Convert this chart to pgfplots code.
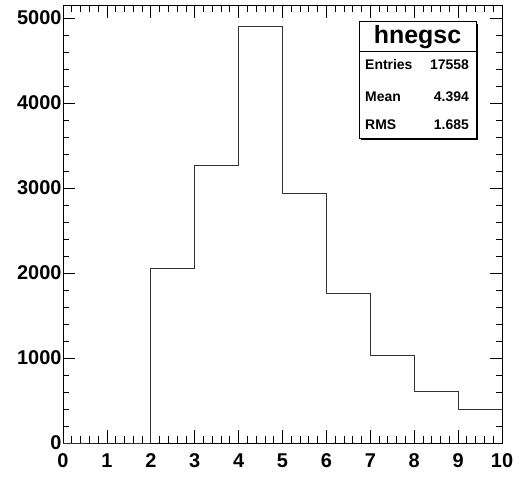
\documentclass[border=0pt]{standalone}
\usepackage{fontspec}
\setmainfont{Liberation Sans}
\usepackage{pgfplots}
\pgfplotsset{compat=1.18}
\begin{document}
\begin{tikzpicture}
\begin{axis}[
  at={(0,0)}, anchor=south west,
  scale only axis, width=439bp, height=437.7bp,
  xmin=0, xmax=10, ymin=0, ymax=5150,
  xtick={0,1,...,10}, ytick={0,1000,...,5000},
  minor x tick num=4, minor y tick num=4,
  tick align=inside,
  major tick length=12.5bp, minor tick length=6.5bp,
  axis line style={line width=1pt},
  every tick/.style={black, line width=0.8pt},
  ticklabel style={font=\fontsize{20}{24}\selectfont\bfseries},
  xticklabel style={yshift=-7bp},
  yticklabel style={xshift=2bp},
  /pgf/number format/assume math mode=true,
  /pgf/number format/1000 sep={},
  scaled y ticks=false,
  clip=false,
]
\addplot[const plot, black!80, line width=0.8pt] coordinates {
  (0,0) (1,0) (2,2055) (3,3270) (4,4898) (5,2937) (6,1761) (7,1035) (8,608) (9,400) (10,400)
};
\end{axis}
% stats box
\fill[black] (298bp,303bp) rectangle (415bp,419.3bp);
\filldraw[fill=white, draw=black, line width=0.8pt] (296bp,305bp) rectangle (413bp,421.3bp);
\draw[black, line width=0.8pt] (296bp,391.3bp) -- (413bp,391.3bp);
\node[font=\fontsize{25}{29}\selectfont\bfseries] at (354.5bp,406.3bp) {hnegsc};
\begin{scope}[every node/.style={font=\fontsize{14}{16}\selectfont\bfseries, inner sep=0pt}]
\node[anchor=west] at (302bp,378bp) {Entries};
\node[anchor=east] at (406bp,378bp) {17558};
\node[anchor=west] at (302bp,346bp) {Mean};
\node[anchor=east] at (406bp,346bp) {4.394};
\node[anchor=west] at (302bp,318bp) {RMS};
\node[anchor=east] at (406bp,318bp) {1.685};
\end{scope}
\pgfresetboundingbox
\useasboundingbox (-63bp,-34bp) rectangle (455bp,443bp);
\end{tikzpicture}
\end{document}
